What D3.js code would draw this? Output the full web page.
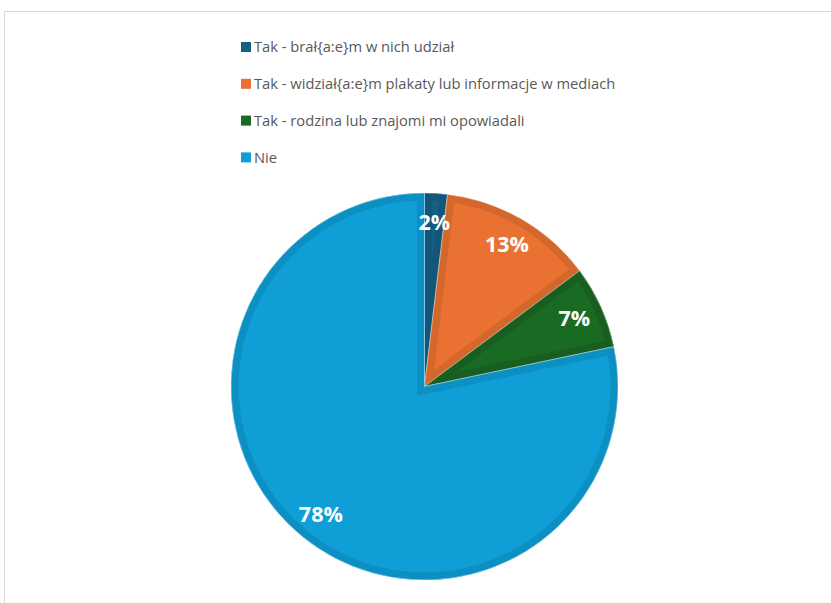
<!DOCTYPE html>
<html><head><meta charset="utf-8">
<script src="https://cdn.jsdelivr.net/npm/d3@7"></script>
<style>body{margin:0;background:#fff}svg{display:block}</style>
</head><body>
<svg id="c" width="831" height="603"></svg>
<script>
const categories = ["Tak - brał{a:e}m w nich udział","Tak - widział{a:e}m plakaty lub informacje w mediach","Tak - rodzina lub znajomi mi opowiadali","Nie"];
const values = [1.9, 12.9, 6.9, 78.3];
const colors = ["#156082","#E97132","#196B24","#0F9ED5"];
const bandColors = ["#12577a","#d3672c","#175e20","#0c8fc2"];

const svg = d3.select("#c");
svg.append("rect").attr("x",4.5).attr("y",11.5).attr("width",900).attr("height",700)
  .attr("fill","#fff").attr("stroke","#d9d9d9").attr("stroke-width",1);

const cx = 424.5, cy = 386.5, R = 193.5;
const pie = d3.pie().sort(null).value(d=>d)(values);
const arc = d3.arc().innerRadius(0).outerRadius(R);
const g = svg.append("g").attr("transform",`translate(${cx},${cy})`);
const defs = svg.append("defs");
pie.forEach((p,i)=>{
  defs.append("clipPath").attr("id","cl"+i).append("path").attr("d",arc(p));
});
const sl = g.selectAll("g.s").data(pie).join("g").attr("class","s");
sl.append("path").attr("d",arc).attr("fill",(d,i)=>colors[i]);
sl.append("path").attr("d",arc).attr("fill","none").attr("stroke",(d,i)=>bandColors[i])
  .attr("stroke-width",15).attr("clip-path",(d,i)=>`url(#cl${i})`);
sl.append("path").attr("d",arc).attr("fill","none").attr("stroke","#fff").attr("stroke-opacity",0.5).attr("stroke-width",0.8);

const total = d3.sum(values);
const lab = d3.arc().innerRadius(R*0.85).outerRadius(R*0.85);
g.selectAll("text.l").data(pie).join("text").attr("class","l")
  .attr("transform",d=>`translate(${lab.centroid(d)})`)
  .attr("text-anchor","middle").attr("dy","0.35em")
  .attr("fill","#fff").attr("font-family","'Open Sans', Lato, sans-serif").attr("font-weight","bold").attr("font-size",21.5)
  .text(d=>Math.round(d.value/total*100)+"%");

const lg = svg.append("g").attr("transform","translate(241,47)");
categories.forEach((c,i)=>{
  const row = lg.append("g").attr("transform",`translate(0,${i*36.8})`);
  row.append("rect").attr("x",0).attr("y",-5).attr("width",10).attr("height",10).attr("fill",colors[i]);
  row.append("text").attr("x",13).attr("y",0).attr("dy","0.35em")
    .attr("font-family","'Open Sans', sans-serif").attr("font-size",14.7).attr("fill","#595959").text(c);
});
</script>
</body></html>
